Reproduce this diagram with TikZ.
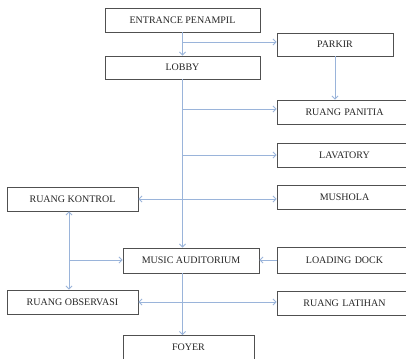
\documentclass[tikz,border=0pt]{standalone}
\usepackage{fontspec}
\setmainfont{Liberation Serif}
\usetikzlibrary{arrows.meta}
\definecolor{linec}{HTML}{9AB4DA}
\definecolor{boxc}{HTML}{505050}
\definecolor{textc}{HTML}{262626}
\tikzset{
  room/.style={draw=boxc, line width=0.9pt, fill=white, inner sep=0pt, text=textc, font=\fontsize{10}{11}\selectfont},
  conn/.style={draw=linec, line width=0.8pt},
  tip/.style={-{Straight Barb[length=3pt,width=6pt]}},
  tips/.style={{Straight Barb[length=3pt,width=6pt]}-{Straight Barb[length=3pt,width=6pt]}}
}
\begin{document}
\begin{tikzpicture}[x=1pt,y=-1pt]
\clip (0,0) rectangle (406,358);
\fill[white] (0,0) rectangle (406,358);
% nodes
\node[room, minimum width=155pt, minimum height=24pt] (ent) at (182.5,20) {ENTRANCE PENAMPIL};
\node[room, minimum width=116pt, minimum height=23pt] (park) at (335,44.5) {PARKIR};
\node[room, minimum width=155pt, minimum height=23pt] (lob) at (182.5,67.5) {LOBBY};
\node[room, minimum width=135pt, minimum height=24pt, text width=125pt, align=center] (pan) at (344.5,112) {RUANG PANITIA};
\node[room, minimum width=135pt, minimum height=24pt, text width=125pt, align=center] (lav) at (344.5,155) {LAVATORY};
\node[room, minimum width=135pt, minimum height=24pt, text width=125pt, align=center] (mus) at (344.5,197) {MUSHOLA};
\node[room, minimum width=131pt, minimum height=24pt] (kon) at (72.5,199) {RUANG KONTROL};
\node[room, minimum width=136pt, minimum height=25pt] (aud) at (191,260.5) {MUSIC AUDITORIUM};
\node[room, minimum width=135pt, minimum height=26pt, text width=125pt, align=center] (load) at (344.5,260) {LOADING DOCK};
\node[room, minimum width=131pt, minimum height=24pt] (obs) at (72.5,302) {RUANG OBSERVASI};
\node[room, minimum width=135pt, minimum height=24pt, text width=125pt, align=center] (lat) at (344.5,303) {RUANG LATIHAN};
\node[room, minimum width=131pt, minimum height=44pt, anchor=north] (foy) at (188.5,335) {};
\node[text=textc, font=\fontsize{10}{11}\selectfont] (foyt) at (188.5,347) {FOYER};
% connectors
\coordinate (b1) at (182.5,42);
\draw[conn, tip] (ent.south) -- (lob.north);
\draw[conn, tip] (b1) -- (b1 -| park.west);
\draw[conn, tip] (park.south) -- (park.south |- pan.north);
\coordinate (v1) at (182.5,109);
\coordinate (v2) at (182.5,155);
\draw[conn, tip] (lob.south) -- (lob.south |- aud.north);
\draw[conn, tip] (v1) -- (v1 -| pan.west);
\draw[conn, tip] (v2) -- (lav.west);
\draw[conn, tips] (kon.east) -- (kon.east -| mus.west);
\coordinate (lv) at (69,260);
\draw[conn, tips] (kon.south -| lv) -- (obs.north -| lv);
\draw[conn, tip] (lv) -- (lv -| aud.west);
\draw[conn, tip] (load.west) -- (load.west -| aud.east);
\draw[conn, tips] (obs.east) -- (obs.east -| lat.west);
\coordinate (fx) at (182.5,0);
\draw[conn, tip] (aud.south -| fx) -- (foy.north -| fx);
\end{tikzpicture}
\end{document}
